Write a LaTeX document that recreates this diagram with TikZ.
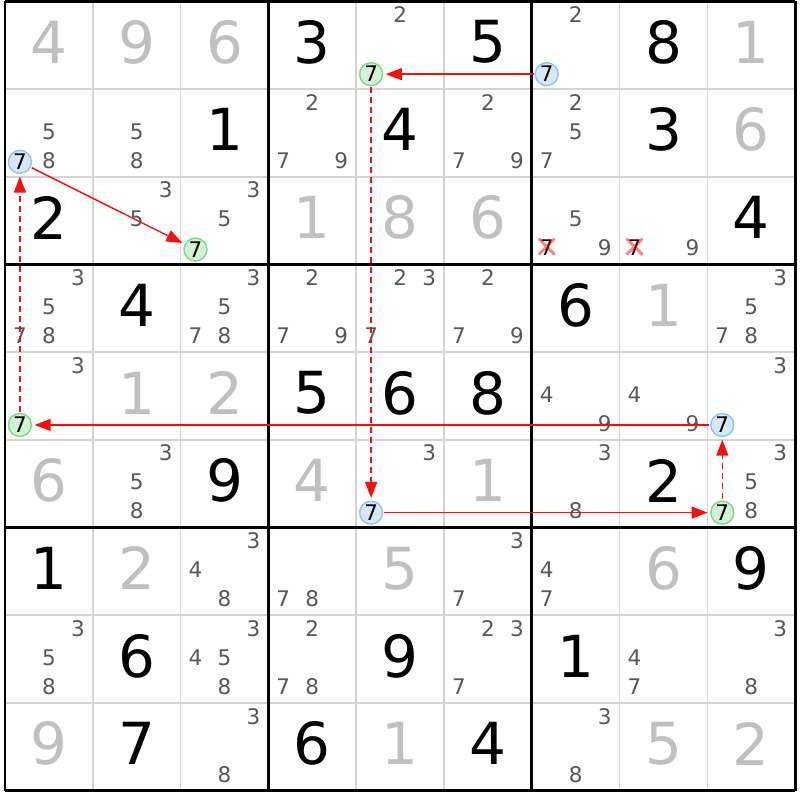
\documentclass[tikz,border=0pt]{standalone}
\usepackage{fontspec}
\setmainfont{DejaVu Sans}
\usetikzlibrary{arrows.meta}
\definecolor{thin}{RGB}{212,212,212}
\definecolor{solvedc}{RGB}{192,192,192}
\definecolor{candc}{RGB}{88,88,88}
\definecolor{bluefill}{RGB}{214,232,250}
\definecolor{bluedraw}{RGB}{144,196,240}
\definecolor{greenfill}{RGB}{212,242,214}
\definecolor{greendraw}{RGB}{128,214,140}
\definecolor{linkred}{RGB}{245,16,16}
\tikzset{
  bigdigit/.style={inner sep=0pt,font=\fontsize{58}{58}\selectfont},
  given/.style={bigdigit,text=black},
  solved/.style={bigdigit,text=solvedc},
  cand/.style={inner sep=0pt,font=\fontsize{21.5}{21.5}\selectfont,text=candc},
  crossed/.style={inner sep=0pt,font=\fontsize{21.5}{21.5}\selectfont,text=black},
  ring/.style={circle,inner sep=0pt,minimum size=23pt,line width=1.4pt,font=\fontsize{21.5}{21.5}\selectfont,text=black},
  bluering/.style={ring,draw=bluedraw,fill=bluefill},
  greenring/.style={ring,draw=greendraw,fill=greenfill},
  link/.style={draw=linkred,line width=1.4pt,-{Triangle[length=16pt,width=12pt]},shorten >=2.5pt,shorten <=1pt},
  weak/.style={link,dash pattern=on 6pt off 4pt},
  xmark/.style={draw=red,opacity=0.5,line width=2.8pt},
  thinline/.style={draw=thin,line width=1.6pt},
  thickline/.style={draw=black,line width=2.8pt}
}
\begin{document}
\begin{tikzpicture}[x=1pt,y=-1pt]
\useasboundingbox[fill=white] (0,0) rectangle (800,800);
% thin grid lines
\foreach \i in {1,2,4,5,7,8}{
  \draw[thinline] ({5+\i*87.8},1.3) -- ({5+\i*87.8},790.6);
  \draw[thinline] (5,{1.3+\i*87.7}) -- (795.2,{1.3+\i*87.7});
}
% thick grid lines
\foreach \i in {0,3,6,9}{
  \draw[thickline] ({5+\i*87.8},1.3) -- ({5+\i*87.8},790.6);
  \draw[thickline] (5,{1.3+\i*87.7}) -- (795.2,{1.3+\i*87.7});
}
% given digits
\foreach \r/\c/\v in {1/4/3,1/6/5,1/8/8,2/3/1,2/5/4,2/8/3,3/1/2,3/9/4,4/2/4,4/7/6,5/4/5,5/5/6,5/6/8,6/3/9,6/8/2,7/1/1,7/9/9,8/2/6,8/5/9,8/7/1,9/2/7,9/4/6,9/6/4}
  \node[given] (g\r\c) at ({5+(\c-0.5)*87.8},{1.3+(\r-0.5)*87.7-3}) {\v};
% solved digits
\foreach \r/\c/\v in {1/1/4,1/2/9,1/3/6,1/9/1,2/9/6,3/4/1,3/5/8,3/6/6,4/8/1,5/2/1,5/3/2,6/1/6,6/4/4,6/6/1,7/2/2,7/5/5,7/8/6,9/1/9,9/5/1,9/8/5,9/9/2}
  \node[solved] (s\r\c) at ({5+(\c-0.5)*87.8},{1.3+(\r-0.5)*87.7-3}) {\v};
% candidates
\foreach \r/\c/\k in {1/5/2,1/7/2,2/1/5,2/1/8,2/2/5,2/2/8,2/4/2,2/4/7,2/4/9,2/6/2,2/6/7,2/6/9,2/7/2,2/7/5,2/7/7,
  3/2/3,3/2/5,3/3/3,3/3/5,3/7/5,3/7/9,3/8/9,
  4/1/3,4/1/5,4/1/7,4/1/8,4/3/3,4/3/5,4/3/7,4/3/8,4/4/2,4/4/7,4/4/9,4/5/2,4/5/3,4/5/7,4/6/2,4/6/7,4/6/9,4/9/3,4/9/5,4/9/7,4/9/8,
  5/1/3,5/7/4,5/7/9,5/8/4,5/8/9,5/9/3,
  6/2/3,6/2/5,6/2/8,6/5/3,6/7/3,6/7/8,6/9/3,6/9/5,6/9/8,
  7/3/3,7/3/4,7/3/8,7/4/7,7/4/8,7/6/3,7/6/7,7/7/4,7/7/7,
  8/1/3,8/1/5,8/1/8,8/3/3,8/3/4,8/3/5,8/3/8,8/4/2,8/4/7,8/4/8,8/6/2,8/6/3,8/6/7,8/8/4,8/8/7,8/9/3,8/9/8,
  9/3/3,9/3/8,9/7/3,9/7/8}
  \node[cand] (k\r\c\k) at ({5+(\c-0.5)*87.8+(mod(\k-1,3)-1)*29},{1.3+(\r-0.5)*87.7+(div(\k-1,3)-1)*29-1.5}) {\k};
% eliminated candidates
\foreach \c in {7,8}
  \node[crossed] (k3\c7) at ({5+(\c-0.5)*87.8-29},{1.3+2.5*87.7+29-1.5}) {7};
% chain nodes
\node[bluering] (b17) at ({5+6.5*87.8-29},{1.3+0.5*87.7+29}) {7};
\node[greenring] (e15) at ({5+4.5*87.8-29},{1.3+0.5*87.7+29}) {7};
\node[bluering] (b65) at ({5+4.5*87.8-29},{1.3+5.5*87.7+29}) {7};
\node[greenring] (e69) at ({5+8.5*87.8-29},{1.3+5.5*87.7+29}) {7};
\node[bluering] (b59) at ({5+8.5*87.8-29},{1.3+4.5*87.7+29}) {7};
\node[greenring] (e51) at ({5+0.5*87.8-29},{1.3+4.5*87.7+29}) {7};
\node[bluering] (b21) at ({5+0.5*87.8-29},{1.3+1.5*87.7+29}) {7};
\node[greenring] (e33) at ({5+2.5*87.8-29},{1.3+2.5*87.7+29}) {7};
% chain links
\draw[link] (b17) -- (e15);
\draw[weak] (e15) -- (b65);
\draw[link] (b65) -- (e69);
\draw[weak] (e69) -- (b59);
\draw[link] (b59) -- (e51);
\draw[weak] (e51) -- (b21);
\draw[link] (b21) -- (e33);
% crosses
\foreach \c in {7,8}
  \draw[xmark] ([yshift=1.5pt]k3\c7.center) +(-8,-8) -- +(8,8) +(-8,8) -- +(8,-8);
\end{tikzpicture}
\end{document}
